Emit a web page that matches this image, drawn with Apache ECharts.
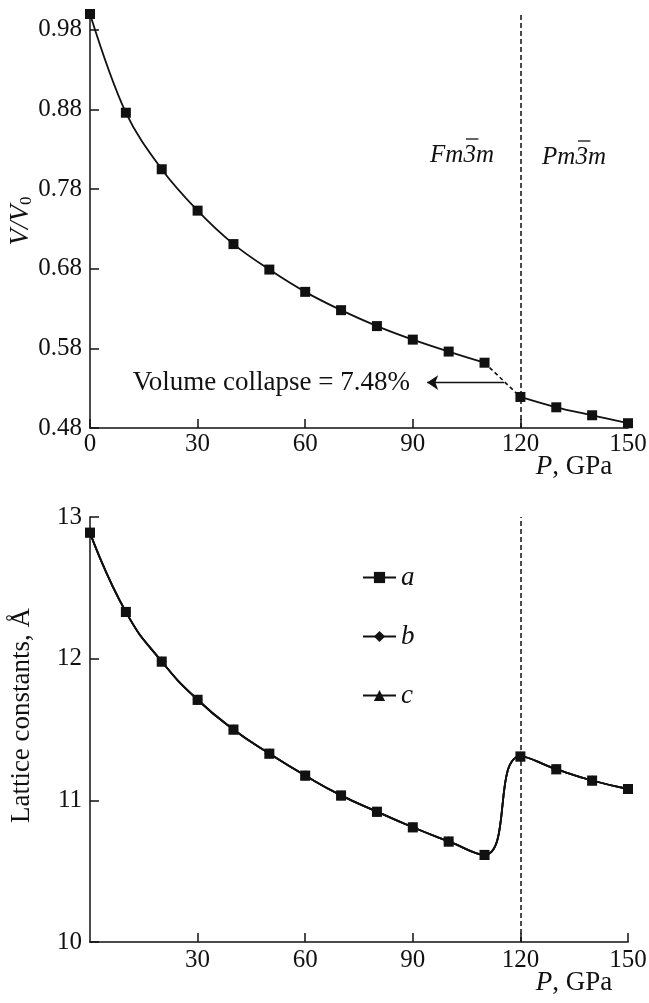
<!DOCTYPE html>
<html>
<head>
<meta charset="utf-8">
<script src="https://cdn.jsdelivr.net/npm/echarts@6/dist/echarts.min.js"></script>
<style>
  html, body { margin: 0; padding: 0; background: #fff; }
  #chart { width: 649px; height: 1003px; }
</style>
</head>
<body>
<div id="chart"></div>
<script>
// ---- data ----
const pressure = [0, 10, 20, 30, 40, 50, 60, 70, 80, 90, 100, 110, 120, 130, 140, 150];
const volumeRatio = [1.000, 0.876, 0.805, 0.753, 0.711, 0.679, 0.651, 0.628, 0.608, 0.591, 0.576, 0.562, 0.519, 0.506, 0.496, 0.486];
const latticeA = [12.89, 12.33, 11.98, 11.71, 11.50, 11.33, 11.175, 11.035, 10.92, 10.81, 10.71, 10.615, 11.31, 11.22, 11.14, 11.08];
const latticeB = [12.89, 12.33, 11.98, 11.71, 11.50, 11.33, 11.175, 11.035, 10.92, 10.81, 10.71, 10.615, 11.31, 11.22, 11.14, 11.08];
const latticeC = [12.89, 12.33, 11.98, 11.71, 11.50, 11.33, 11.175, 11.035, 10.92, 10.81, 10.71, 10.615, 11.31, 11.22, 11.14, 11.08];
const transitionPressure = 120;
const volumeTicks = [0.48, 0.58, 0.68, 0.78, 0.88, 0.98];
const topXTicks = [0, 30, 60, 90, 120, 150];
const bottomXTicks = [30, 60, 90, 120, 150];
const latticeTicks = [10, 11, 12, 13];
const arrowStart = [115.5, 0.537];
const arrowEnd = [94, 0.537];
const collapseText = 'Volume collapse = 7.48%';
const phaseLowParts = ['Fm', '3', 'm'];
const phaseHighParts = ['Pm', '3', 'm'];

// ---- build series data ----
const pairs = (xs, ys) => xs.map((x, i) => [x, ys[i]]);
const volAll = pairs(pressure, volumeRatio);
const splitIdx = pressure.indexOf(transitionPressure);
const volLow = volAll.slice(0, splitIdx);
const volHigh = volAll.slice(splitIdx);
const volJump = volAll.slice(splitIdx - 1, splitIdx + 1);

const FONT = '"Liberation Serif", "Times New Roman", serif';
const INK = '#111';
const FS = 25;
const FS_NAME = 27;

// text measuring for the space-group labels with an overbar on the "3"
const mctx = document.createElement('canvas').getContext('2d');
function phaseLabel(parts, cx, cy) {
  const font = 'italic ' + FS + 'px ' + FONT;
  mctx.font = font;
  const w0 = mctx.measureText(parts[0]).width;
  const w1 = mctx.measureText(parts[1]).width;
  const wAll = mctx.measureText(parts.join('')).width;
  const x0 = cx - wAll / 2;
  return [
    { type: 'text', x: x0, y: cy, style: { text: parts.join(''), align: 'left', verticalAlign: 'middle', font: font, fill: INK } },
    { type: 'line', shape: { x1: x0 + w0 + 2.5, y1: cy - 16, x2: x0 + w0 + w1 + 2.5, y2: cy - 16 }, style: { stroke: INK, lineWidth: 1.3 } }
  ];
}

const axisCommon = {
  type: 'value',
  axisLine: { show: true, onZero: false, lineStyle: { color: INK, width: 1.5 } },
  axisTick: { show: true, inside: true, length: 9, lineStyle: { color: INK, width: 1.5 } },
  axisLabel: { color: INK, fontFamily: FONT, fontSize: FS },
  splitLine: { show: false }
};

const chart = echarts.init(document.getElementById('chart'), null, { renderer: 'canvas' });

const lineSeries = (name, data, xi, yi, extra) => Object.assign({
  name: name,
  type: 'line',
  xAxisIndex: xi, yAxisIndex: yi,
  data: data,
  smooth: 0.35,
  symbol: 'rect',
  symbolSize: 10,
  showAllSymbol: true,
  clip: false,
  lineStyle: { color: INK, width: 1.8 },
  itemStyle: { color: INK },
  emphasis: { disabled: true }
}, extra || {});

const vLine = {
  silent: true,
  symbol: 'none',
  label: { show: false },
  lineStyle: { color: INK, width: 1.5, type: [5, 3] },
  data: [{ xAxis: transitionPressure }]
};

const option = {
  animation: false,
  backgroundColor: '#fff',
  textStyle: { fontFamily: FONT },
  grid: [
    { left: 90, top: 14, width: 538, height: 414, outerBoundsMode: 'none', containLabel: false },
    { left: 90, top: 517, width: 538, height: 425, outerBoundsMode: 'none', containLabel: false }
  ],
  xAxis: [
    Object.assign({}, axisCommon, {
      gridIndex: 0, min: 0, max: 150,
      axisTick: Object.assign({}, axisCommon.axisTick, { customValues: topXTicks }),
      axisLabel: Object.assign({}, axisCommon.axisLabel, { customValues: topXTicks, margin: 4 })
    }),
    Object.assign({}, axisCommon, {
      gridIndex: 1, min: 0, max: 150,
      axisTick: Object.assign({}, axisCommon.axisTick, { customValues: bottomXTicks }),
      axisLabel: Object.assign({}, axisCommon.axisLabel, { customValues: bottomXTicks, margin: 6 })
    })
  ],
  yAxis: [
    Object.assign({}, axisCommon, {
      gridIndex: 0, min: 0.48, max: 1.0,
      axisTick: Object.assign({}, axisCommon.axisTick, { customValues: volumeTicks }),
      axisLabel: Object.assign({}, axisCommon.axisLabel, {
        customValues: volumeTicks, margin: 8,
        formatter: v => Number(v).toFixed(2)
      }),
      name: '{i|V}{n|/}{i|V}{s|0}',
      nameLocation: 'middle',
      nameMoveOverlap: false,
      nameGap: 55,
      nameTextStyle: {
        color: INK, fontFamily: FONT, fontSize: FS_NAME,
        rich: {
          i: { fontStyle: 'italic', fontSize: FS_NAME, fontFamily: FONT, color: INK, lineHeight: 28 },
          n: { fontStyle: 'italic', fontSize: FS_NAME, fontFamily: FONT, color: INK, lineHeight: 28 },
          s: { fontSize: 17, fontFamily: FONT, color: INK, lineHeight: 28, verticalAlign: 'bottom', padding: [12, 0, 0, 0] }
        }
      }
    }),
    Object.assign({}, axisCommon, {
      gridIndex: 1, min: 10, max: 13,
      axisTick: Object.assign({}, axisCommon.axisTick, { customValues: latticeTicks }),
      axisLabel: Object.assign({}, axisCommon.axisLabel, { customValues: latticeTicks, margin: 8 }),
      name: 'Lattice constants, Å',
      nameLocation: 'middle',
      nameMoveOverlap: false,
      nameGap: 55,
      nameTextStyle: { color: INK, fontFamily: FONT, fontSize: FS_NAME, padding: [0, 0, 0, 28] }
    })
  ],
  legend: {
    data: ['a', 'b', 'c'],
    orient: 'vertical',
    left: 357,
    top: 559,
    itemWidth: 33,
    itemHeight: 14,
    itemGap: 32,
    selectedMode: false,
    textStyle: { color: INK, fontFamily: FONT, fontSize: FS_NAME, fontStyle: 'italic', lineHeight: 27 }
  },
  series: [
    lineSeries('Fm', volLow, 0, 0, {
      markLine: vLine
    }),
    lineSeries('Pm', volHigh, 0, 0, {
      markLine: {
        silent: true,
        symbol: ['none', 'arrow'],
        symbolSize: 11,
        label: { show: false },
        lineStyle: { color: INK, width: 1.3, type: 'solid' },
        data: [[{ coord: arrowStart }, { coord: arrowEnd }]]
      }
    }),
    lineSeries('jump', volJump, 0, 0, {
      smooth: false, symbol: 'none',
      lineStyle: { color: INK, width: 1.6, type: [4, 3] }
    }),
    lineSeries('b', pairs(pressure, latticeB), 1, 1, { symbol: 'diamond', symbolSize: 10, smooth: 0.5 }),
    lineSeries('c', pairs(pressure, latticeC), 1, 1, { symbol: 'triangle', symbolSize: 10, smooth: 0.5 }),
    lineSeries('a', pairs(pressure, latticeA), 1, 1, { smooth: 0.5, z: 5, markLine: vLine })
  ],
  graphic: [
    { type: 'text', x: 410, y: 383, style: { text: collapseText, align: 'right', verticalAlign: 'middle', font: FS_NAME + 'px ' + FONT, fill: INK } },
    ...phaseLabel(phaseLowParts, 462, 155),
    ...phaseLabel(phaseHighParts, 574, 157),
    { type: 'text', x: 574, y: 467, style: { text: '{i|P}, GPa', align: 'center', verticalAlign: 'middle', font: FS_NAME + 'px ' + FONT, fill: INK,
      rich: { i: { fontStyle: 'italic', fontSize: FS_NAME, fontFamily: FONT, fill: INK } } } },
    { type: 'text', x: 574, y: 983, style: { text: '{i|P}, GPa', align: 'center', verticalAlign: 'middle', font: FS_NAME + 'px ' + FONT, fill: INK,
      rich: { i: { fontStyle: 'italic', fontSize: FS_NAME, fontFamily: FONT, fill: INK } } } }
  ]
};

chart.setOption(option);
</script>
</body>
</html>
